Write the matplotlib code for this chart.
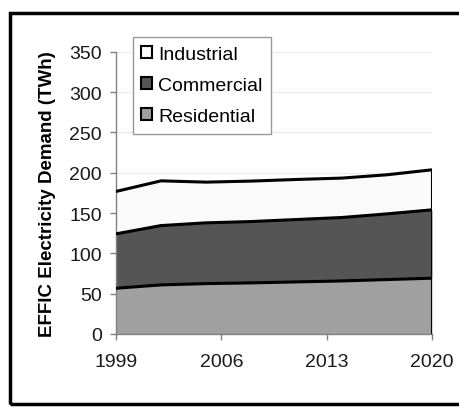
import matplotlib.pyplot as plt
from matplotlib.patches import Patch, Rectangle

plt.rcParams['font.family'] = ['Liberation Sans', 'DejaVu Sans']

# Data (TWh)
years = [1999, 2002, 2005, 2008, 2011, 2014, 2017, 2020]
residential = [56.7, 60.9, 62.5, 63.4, 64.6, 65.8, 67.5, 69.2]
commercial = [67.5, 73.6, 75.4, 76.1, 77.4, 78.7, 81.5, 84.8]
industrial = [52.6, 55.5, 50.5, 50.2, 49.7, 48.9, 48.5, 49.7]
series_names = ['Residential', 'Commercial', 'Industrial']
colors = ['#a0a0a0', '#555555', '#fafafa']
xticks = [1999, 2006, 2013, 2020]

fig = plt.figure(figsize=(4.6, 4.1), dpi=100)
ax = fig.add_axes([0.252, 0.183, 0.687, 0.688])

# stacked layers
base = [0] * len(years)
tops = []
for vals, c in zip([residential, commercial, industrial], colors):
    top = [b + v for b, v in zip(base, vals)]
    ax.fill_between(years, base, top, color=c, lw=0, zorder=2)
    tops.append(top)
    base = top
for top in tops:
    ax.plot(years, top, color='black', lw=2.2, zorder=3, solid_capstyle='butt')
ax.plot([years[-1], years[-1]], [0, tops[-1][-1]], color='black', lw=2.2, zorder=3)

ax.set_xlim(1999, 2020)
ax.set_ylim(0, 350)
ax.set_xticks(xticks)
ax.set_yticks(range(0, 351, 50))
ax.grid(axis='y', color='#ececec', lw=1, zorder=0)
ax.set_axisbelow(True)
for s in ['top', 'right']:
    ax.spines[s].set_visible(False)
for s in ['left', 'bottom']:
    ax.spines[s].set_color('#808080')
    ax.spines[s].set_linewidth(1)
ax.tick_params(axis='both', colors='#808080', labelcolor='#1a1a1a', labelsize=14, length=4, width=1)
ax.tick_params(axis='x', pad=10)
ax.tick_params(axis='y', pad=6)
ax.set_ylabel('EFFIC Electricity Demand (TWh)', fontsize=13.5, fontweight='bold', labelpad=10)

handles = [Patch(facecolor=c, edgecolor='black', lw=1.5) for c in colors[::-1]]
leg = ax.legend(handles, series_names[::-1], loc='upper left', bbox_to_anchor=(0.053, 1.052),
                fontsize=14, handlelength=0.55, handleheight=0.55, handletextpad=0.3,
                labelspacing=0.72, borderpad=0.45, borderaxespad=0, fancybox=False, framealpha=1)
leg.get_frame().set_edgecolor('#999999')
leg.get_frame().set_linewidth(1)

# outer frame
fig.patches.append(Rectangle((10 / 460, 5 / 410), 1.0, 391 / 410, transform=fig.transFigure,
                             fill=False, edgecolor='black', lw=2.5))

fig.savefig('out.png', dpi=100)
